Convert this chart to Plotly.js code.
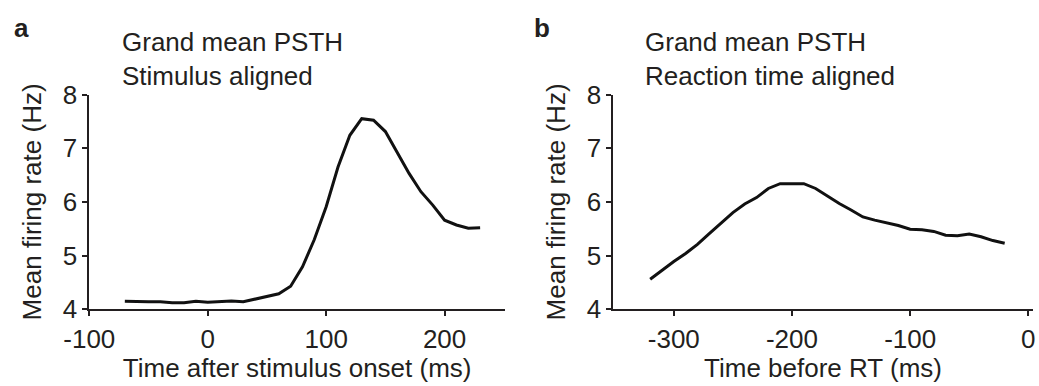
<!DOCTYPE html>
<html>
<head>
<meta charset="utf-8">
<script src="https://cdn.plot.ly/plotly-3.0.1.min.js"></script>
<style>html,body{margin:0;padding:0;background:#fff;}#chart{width:1039px;height:386px;}</style>
</head>
<body>
<div id="chart"></div>
<script>
// Panel a: stimulus aligned
const timeStim = [-70,-60,-50,-40,-30,-20,-10,0,10,20,30,40,50,60,70,80,90,100,110,120,130,140,150,160,170,180,190,200,210,220,230];
const rateStim = [4.15,4.14,4.14,4.14,4.12,4.12,4.15,4.13,4.14,4.155,4.14,4.19,4.25,4.29,4.43,4.79,5.30,5.91,6.65,7.24,7.55,7.52,7.31,6.93,6.53,6.19,5.94,5.66,5.57,5.51,5.52];
// Panel b: reaction-time aligned
const timeRT = [-320,-310,-300,-290,-280,-270,-260,-250,-240,-230,-220,-210,-200,-190,-180,-170,-160,-150,-140,-130,-120,-110,-100,-90,-80,-70,-60,-50,-40,-30,-20];
const rateRT = [4.56,4.73,4.89,5.04,5.21,5.41,5.61,5.80,5.96,6.08,6.25,6.34,6.34,6.34,6.25,6.11,5.97,5.85,5.72,5.66,5.61,5.56,5.49,5.48,5.45,5.38,5.37,5.40,5.35,5.28,5.23];
const yTicks = [4,5,6,7,8];
const xTicksA = [-100,0,100,200];
const xTicksB = [-300,-200,-100,0];
const panelLabels = ['a','b'];
const titlesA = ['Grand mean PSTH','Stimulus aligned'];
const titlesB = ['Grand mean PSTH','Reaction time aligned'];
const xTitleA = 'Time after stimulus onset (ms)';
const xTitleB = 'Time before RT (ms)';
const yTitle = 'Mean firing rate (Hz)';

const W = 1039, H = 386;
const ink = '#231f20';
const font = {family: 'Liberation Sans, Arial, sans-serif', size: 26, color: ink};

const ydom = [(H - 309.3) / H, (H - 94.5) / H];
const xdomA = [89.3 / W, 505 / W];
const xdomB = [613.3 / W, 1032.7 / W];

function xaxis(dom, range, ticks, title, anchor) {
  return {
    domain: dom, range: range, anchor: anchor,
    tickvals: ticks, ticktext: ticks.map(String),
    showline: true, linecolor: ink, linewidth: 2,
    ticks: 'outside', ticklen: 5, tickwidth: 2, tickcolor: ink,
    showgrid: false, zeroline: false,
    tickfont: font,
    title: {text: title, font: font, standoff: 5}
  };
}
function yaxis(range, anchor) {
  return {
    domain: ydom, range: range, anchor: anchor,
    tickvals: yTicks, ticktext: yTicks.map(String),
    showline: true, linecolor: ink, linewidth: 2,
    ticks: 'outside', ticklen: 5, tickwidth: 2, tickcolor: ink,
    showgrid: false, zeroline: false,
    tickfont: font,
    title: {text: yTitle, font: font, standoff: 14}
  };
}

const traces = [
  {x: timeStim, y: rateStim, xaxis: 'x', yaxis: 'y', mode: 'lines', line: {color: '#111', width: 3}, hoverinfo: 'skip'},
  {x: timeRT, y: rateRT, xaxis: 'x2', yaxis: 'y2', mode: 'lines', line: {color: '#111', width: 3}, hoverinfo: 'skip'}
];

const annotations = [
  {text: '<b>' + panelLabels[0] + '</b>', x: 12 / W, y: 1 - 11 / H, xref: 'paper', yref: 'paper', xanchor: 'left', yanchor: 'top', showarrow: false, font: font},
  {text: '<b>' + panelLabels[1] + '</b>', x: 532 / W, y: 1 - 11 / H, xref: 'paper', yref: 'paper', xanchor: 'left', yanchor: 'top', showarrow: false, font: font},
  {text: titlesA.join('<br>'), x: 120 / W, y: 1 - 25 / H, xref: 'paper', yref: 'paper', xanchor: 'left', yanchor: 'top', align: 'left', showarrow: false, font: font},
  {text: titlesB.join('<br>'), x: 643 / W, y: 1 - 25 / H, xref: 'paper', yref: 'paper', xanchor: 'left', yanchor: 'top', align: 'left', showarrow: false, font: font}
];

const layout = {
  width: W, height: H,
  margin: {l: 0, r: 0, t: 0, b: 0},
  paper_bgcolor: '#fff', plot_bgcolor: '#fff',
  showlegend: false,
  xaxis: xaxis(xdomA, [-100, 251], xTicksA, xTitleA, 'y'),
  yaxis: yaxis([4, 8], 'x'),
  xaxis2: xaxis(xdomB, [-351.2, 3.7], xTicksB, xTitleB, 'y2'),
  yaxis2: yaxis([4, 8], 'x2'),
  annotations: annotations,
  font: font
};

Plotly.newPlot('chart', traces, layout, {staticPlot: true, displayModeBar: false});
</script>
</body>
</html>
